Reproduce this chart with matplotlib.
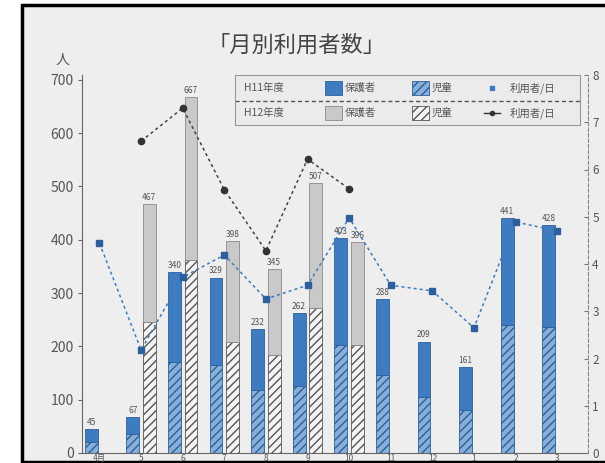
import numpy as np
import matplotlib.pyplot as plt
from matplotlib.patches import Rectangle
from matplotlib.lines import Line2D

plt.rcParams['font.family'] = ['Noto Sans CJK JP', 'DejaVu Sans']

# data
months = ['4月', '5', '6', '7', '8', '9', '10', '11', '12', '1', '2', '3']

h11_total = [45, 67, 340, 329, 232, 262, 403, 288, 209, 161, 441, 428]
h11_child = [20, 35, 171, 165, 118, 126, 203, 146, 105, 81, 240, 236]
h11_per_day = [4.44, 2.18, 3.72, 4.19, 3.26, 3.55, 4.98, 3.55, 3.43, 2.65, 4.89, 4.70]

h12_idx = [1, 2, 3, 4, 5, 6]          # May .. Oct
h12_total = [467, 667, 398, 345, 507, 396]
h12_child = [246, 362, 208, 184, 272, 203]
h12_per_day = [6.60, 7.30, 5.57, 4.28, 6.22, 5.59]

BG = '#eeeeee'
BLUE = '#3d7cc0'
BLUE_L = '#86afd9'
GRAY = '#c9c9c9'
TXT = '#555555'

W, H = 605, 463
fig = plt.figure(figsize=(W / 100, H / 100), dpi=100)
fig.patch.set_facecolor('white')

def fx(px):
    return px / W

def fy(py):
    return 1 - py / H

# outer scanned frame
fig.patches.append(Rectangle((fx(22), fy(462)), fx(620 - 22), fy(5) - fy(462),
                             transform=fig.transFigure, facecolor=BG,
                             edgecolor='black', lw=2.5, zorder=-5))

ax = fig.add_axes([fx(82), fy(453), fx(588 - 82), fy(75) - fy(453)])
ax.patch.set_visible(False)
ax2 = ax.twinx()

x = np.arange(len(months))
bw = 0.31
off = 0.2

h11_total = np.array(h11_total)
h11_child = np.array(h11_child)
h11_guard = h11_total - h11_child
ax.bar(x - off, h11_child, bw, color=BLUE_L, edgecolor='#2f5f99', hatch='////', lw=0.6, zorder=2)
ax.bar(x - off, h11_guard, bw, bottom=h11_child, color=BLUE, edgecolor='#2f5f99', lw=0.6, zorder=2)

h12_total = np.array(h12_total)
h12_child = np.array(h12_child)
h12_guard = h12_total - h12_child
h12_x = np.array(h12_idx)
ax.bar(h12_x + off, h12_child, bw, color='#f4f4f4', edgecolor='#555555', hatch='////', lw=0.6, zorder=2)
ax.bar(h12_x + off, h12_guard, bw, bottom=h12_child, color=GRAY, edgecolor='#8a8a8a', lw=0.6, zorder=2)

for xi, v in zip(x - off, h11_total):
    ax.text(xi, v + 4, str(v), ha='center', va='bottom', fontsize=6, color=TXT, zorder=4)
for xi, v in zip(h12_x + off, h12_total):
    ax.text(xi, v + 4, str(v), ha='center', va='bottom', fontsize=6, color=TXT, zorder=4)

ax.set_xlim(-0.42, 11.74)
ax.set_ylim(0, 709)
ax.set_yticks(range(0, 701, 100))
ax.set_xticks(x)
ax.set_xticklabels(months)
ax.tick_params(axis='y', colors='#666666', labelcolor=TXT, labelsize=10, length=3, pad=3)
ax.tick_params(axis='x', length=0, labelsize=6, labelcolor=TXT, pad=0.5)
for s in ['top', 'right']:
    ax.spines[s].set_visible(False)
ax.spines['left'].set_color('#666666')
ax.spines['bottom'].set_color('#666666')

ax2.plot(x, h11_per_day, ls=(0, (2, 2)), color=BLUE, lw=1.1, marker='s', ms=4,
         markerfacecolor='#2d5f9e', markeredgecolor='#2d5f9e', zorder=5)
ax2.plot(h12_x, h12_per_day, ls=(0, (2, 2)), color='#444444', lw=1.1, marker='o', ms=4.5,
         markerfacecolor='#333333', markeredgecolor='#333333', zorder=5)
ax2.set_ylim(0, 8)
ax2.set_yticks(range(0, 9))
ax2.tick_params(axis='y', direction='in', colors='#777777', labelcolor=TXT, labelsize=8.5, length=3, pad=3)
for s in ['top', 'left', 'bottom']:
    ax2.spines[s].set_visible(False)
ax2.spines['right'].set_color('#888888')
ax2.spines['right'].set_linestyle((0, (3, 2)))

fig.text(fx(297), fy(45), '「月別利用者数」', ha='center', va='center', fontsize=16, color='#444444')
fig.text(fx(62), fy(60), '人', ha='center', va='center', fontsize=10, color=TXT)

# legend box drawn by hand
lg = fig.add_axes([fx(235), fy(125), fx(580 - 235), fy(75) - fy(125)])
lg.set_xlim(235, 580)
lg.set_ylim(125, 75)
lg.set_xticks([])
lg.set_yticks([])
lg.set_facecolor('#ebebeb')
for s in lg.spines.values():
    s.set_color('#999999')
lg.plot([235, 580], [101, 101], ls=(0, (3, 2)), color='#555555', lw=1)

rows = [(88, 'H11年度', BLUE, '#2f5f99', BLUE_L, '#2f5f99', BLUE, 's'),
        (113, 'H12年度', GRAY, '#8a8a8a', '#f4f4f4', '#555555', '#333333', 'o')]
for yy, lab, c1, e1, c2, e2, lc, mk in rows:
    lg.text(244, yy, lab, va='center', fontsize=7.5, color=TXT)
    lg.add_patch(Rectangle((325, yy - 7), 17, 14, facecolor=c1, edgecolor=e1, lw=0.6))
    lg.text(345, yy, '保護者', va='center', fontsize=7.5, color=TXT)
    lg.add_patch(Rectangle((412, yy - 7), 17, 14, facecolor=c2, edgecolor=e2, hatch='////', lw=0.6))
    lg.text(432, yy, '児童', va='center', fontsize=7.5, color=TXT)
    if mk == 's':
        lg.plot([492], [yy], marker='s', ms=3, color=lc, ls='none')
    else:
        lg.add_line(Line2D([484, 500], [yy, yy], color=lc, lw=1))
        lg.plot([492], [yy], marker='o', ms=3, color=lc)
    lg.text(510, yy, '利用者/日', va='center', fontsize=7.5, color=TXT)

fig.savefig('out.png', dpi=100)
